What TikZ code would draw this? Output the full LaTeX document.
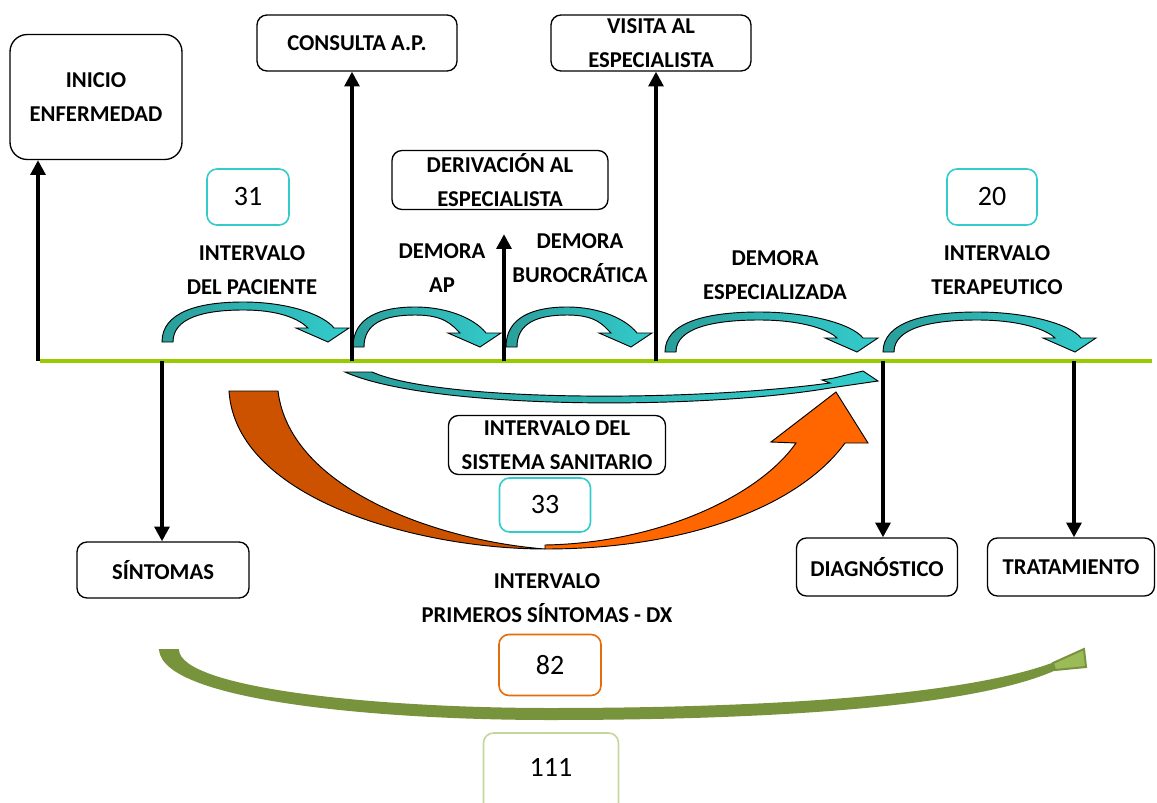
\documentclass[tikz,border=0pt]{standalone}
\usepackage{fontspec}
\setmainfont{Carlito}
\usetikzlibrary{arrows.meta}
\definecolor{tealdk}{HTML}{2A9E9B}
\definecolor{teallt}{HTML}{33CCCC}
\definecolor{axisgreen}{HTML}{99CC00}
\definecolor{orangedk}{HTML}{CC5200}
\definecolor{orangelt}{HTML}{FF6600}
\definecolor{olive}{HTML}{77933C}
\definecolor{olivelt}{HTML}{9BBB59}
\definecolor{numorange}{HTML}{E46C0A}
\definecolor{numgreen}{HTML}{C3D69B}
\newcommand{\lblfont}{\fontsize{17}{25.5}\selectfont\bfseries}
\newcommand{\numfont}{\fontsize{21}{24}\selectfont}
% small teal curved arrow above the time line: left x, base y, length
\newcommand{\curvarr}[3]{%
  \path[draw=black, line width=0.7pt, left color=tealdk, right color=teallt, shift={(#1,#2)}]
    (0,0) .. controls (0,-30) and ({0.22*#3},-40) .. ({0.49*#3},-40)
    .. controls ({0.75*#3},-40) and ({#3-5},-28) .. ({#3+6},-14)
    -- ({#3+21},-14) -- (#3,0) -- ({#3-32},-14) -- ({#3-20},-14)
    .. controls ({#3-28},-22) and ({0.72*#3},-32) .. ({0.49*#3},-32)
    .. controls ({0.25*#3},-32) and (11,-24) .. (11,0) -- cycle;}

\begin{document}
\begin{tikzpicture}[x=0.75pt, y=-0.75pt,
  box/.style={draw, rounded corners=7.5pt, line width=1pt, align=center, inner sep=0pt, font=\lblfont},
  numbox/.style={draw, rounded corners=7.5pt, line width=1.2pt, inner sep=0pt, font=\numfont},
  lbl/.style={align=center, inner sep=0pt, font=\lblfont},
  evarr/.style={line width=3pt, -{Triangle[width=11pt,length=11pt]}}]
\clip (0,0) rectangle (1157,803);

% time line
\coordinate (l0) at (40,361); \coordinate (l1) at (1152,361);
\draw[axisgreen, line width=3pt] (l0) -- (l1);

% boxes
\node[box, minimum width=129pt, minimum height=93.75pt, rounded corners=13pt] (inicio) at (96,97) {INICIO\\ENFERMEDAD};
\node[box, minimum width=150pt, minimum height=42pt] (consulta) at (357,43) {CONSULTA A.P.};
\node[box, minimum width=150pt, minimum height=42pt] (visita) at (651,43) {VISITA AL\\ESPECIALISTA};
\node[box, minimum width=162pt, minimum height=44.25pt] (deriv) at (500,180) {DERIVACIÓN AL\\ESPECIALISTA};
\node[box, minimum width=162.75pt, minimum height=44.25pt] (sanit) at (557,445) {INTERVALO DEL\\SISTEMA SANITARIO};
\node[box, minimum width=129pt, minimum height=42pt] (sint) at (163,570) {SÍNTOMAS};
\node[box, minimum width=120.75pt, minimum height=43.5pt] (diag) at (877,567) {DIAGNÓSTICO};
\node[box, minimum width=125.25pt, minimum height=43.5pt] (trat) at (1071,567) {TRATAMIENTO};

% numbers
\node[numbox, draw=teallt, minimum width=61.5pt, minimum height=42pt] (n31) at (248,197) {31};
\node[numbox, draw=teallt, minimum width=67.5pt, minimum height=42pt] (n20) at (992,197) {20};
\node[numbox, draw=teallt, minimum width=68.25pt, minimum height=40.5pt] (n33) at (545,505) {33};
\node[numbox, draw=numorange, minimum width=76.5pt, minimum height=45.75pt] (n82) at (550,665) {82};
\node[numbox, draw=numgreen, minimum width=101.25pt, minimum height=60pt, text depth=9pt] (n111) at (551,773) {111};

% labels
\node[lbl] (lpac) at (252,270) {INTERVALO\\DEL PACIENTE};
\node[lbl] (lap) at (442,268) {DEMORA\\AP};
\node[lbl] (lbur) at (580,258) {DEMORA\\BUROCRÁTICA};
\node[lbl] (lesp) at (775,275) {DEMORA\\ESPECIALIZADA};
\node[lbl] (lter) at (997,270) {INTERVALO\\TERAPEUTICO};
\node[lbl] (ldx) at (547,598) {INTERVALO\\PRIMEROS SÍNTOMAS - DX};

% curved arrows above the line
\curvarr{162}{342}{166}
\curvarr{353}{347}{127}
\curvarr{506}{347}{125}
\curvarr{665}{352}{192}
\curvarr{883}{352}{192}

% system interval arrow
\path[draw=black, line width=0.7pt, left color=tealdk, right color=teallt]
  (345,372) .. controls (430,410) and (700,410) .. (830,388)
  -- (878,381) -- (863,371) -- (834,378) -- (822,380) -- (830,383)
  .. controls (690,402) and (440,402) .. (372,372) -- cycle;

% symptoms to diagnosis arrow
\path[draw=black, line width=0.7pt, fill=orangedk]
  (229,391) .. controls (236,500) and (420,549) .. (545,549)
  .. controls (440,541) and (290,490) .. (278,391) -- cycle;
\path[draw=black, line width=0.7pt, fill=orangelt]
  (545,549) .. controls (690,549) and (800,505) .. (845,443)
  -- (868,443) -- (836,392) -- (771,442) -- (796,443)
  .. controls (760,495) and (660,543) .. (545,545) -- cycle;

% total interval arrow
\path[draw=olive, line width=1.5pt, fill=olive]
  (160,650) .. controls (165,700) and (380,719) .. (550,719)
  .. controls (780,719) and (980,705) .. (1058,668) -- (1062,660)
  .. controls (980,695) and (780,709) .. (550,709)
  .. controls (380,709) and (180,690) .. (178,650) -- cycle;
\path[draw=olive, line width=1.5pt, fill=olivelt] (1053,663) -- (1084,649) -- (1086,667) -- (1055,670) -- cycle;

% events on the line
\coordinate (t0) at (38,361); \coordinate (t1) at (352,361);
\coordinate (t2) at (504,361); \coordinate (t3) at (656,361);
\coordinate (s0) at (162,361); \coordinate (s1) at (883,361); \coordinate (s2) at (1074,361);
\draw[evarr] (t0) -- (inicio.south -| t0);
\draw[evarr] (t1) -- (consulta.south -| t1);
\draw[evarr, shorten >=18pt] (t2) -- (deriv.south -| t2);
\draw[evarr] (t3) -- (visita.south -| t3);
\draw[evarr] (s0) -- (sint.north -| s0);
\draw[evarr] (s1) -- (diag.north -| s1);
\draw[evarr] (s2) -- (trat.north -| s2);
\end{tikzpicture}
\end{document}
